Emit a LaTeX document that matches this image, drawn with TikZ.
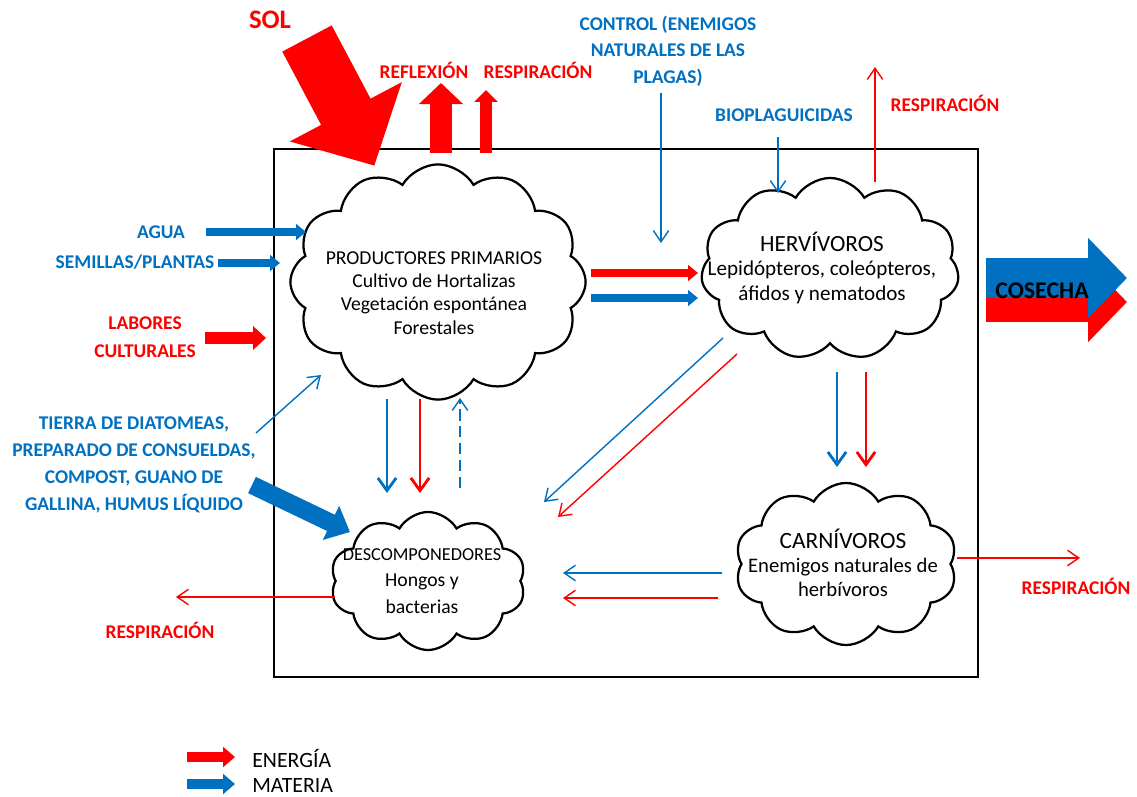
\documentclass[tikz,border=0pt]{standalone}
\usepackage{fontspec}
\setmainfont{Carlito}
\usetikzlibrary{arrows.meta,shapes.symbols}
\definecolor{rojo}{RGB}{255,0,0}
\definecolor{azul}{RGB}{0,112,192}
\begin{document}
\begin{tikzpicture}[x=0.025cm,y=-0.025cm]
\tikzstyle{every node}+=[inner sep=0pt]
\tikzstyle{nube}=[cloud, draw, fill=white, line width=1.6pt, cloud puffs=11, cloud puff arc=120, cloud ignores aspect]
\tikzstyle{texto}=[align=center, font=\fontsize{14}{16.5}\selectfont]
\tikzstyle{etiq}=[align=center, font=\bfseries\fontsize{13.8}{19}\selectfont]
\tikzstyle{fina}=[line width=1pt, -{Straight Barb[length=8pt,width=11pt]}]
\tikzstyle{media}=[line width=2pt, -{Straight Barb[length=9pt,width=13pt]}]
\tikzstyle{gruesa}=[line width=5.5pt, -{Triangle[length=7pt,width=11pt]}]
\useasboundingbox (0,0) rectangle (1137,796);
\draw[line width=2pt] (274,149) rectangle (978,677);
% nubes
\node[nube, cloud puffs=12, minimum width=7.38cm, minimum height=5.88cm] (prod) at (438,282) {};
\node[texto] (prodtxt) at (434,293) {PRODUCTORES PRIMARIOS\\Cultivo de Hortalizas\\Vegetación espontánea\\Forestales};
\node[nube, minimum width=6.45cm, minimum height=4.55cm] (herb) at (830,269) {};
\node[texto, font=\fontsize{15}{17.5}\selectfont] (herbtxt) at (822,268) {{\fontsize{16.5}{18}\selectfont HERVÍVOROS}\\Lepidópteros, coleópteros,\\áfidos y nematodos};
\node[nube, cloud puffs=10, minimum width=4.88cm, minimum height=3.45cm] (desc) at (428,581) {};
\node[texto, font=\fontsize{14}{19}\selectfont] (desctxt) at (422,581) {{\fontsize{13}{14}\selectfont DESCOMPONEDORES}\\Hongos y\\bacterias};
\node[nube, cloud puffs=10, minimum width=5.55cm, minimum height=4.05cm] (carn) at (846,564) {};
\node[texto, font=\fontsize{14.7}{17}\selectfont] (carntxt) at (843,563) {{\fontsize{16.6}{18}\selectfont CARNÍVOROS}\\Enemigos naturales de\\herbívoros};
% etiquetas
\node[etiq, rojo, font=\bfseries\fontsize{19}{22}\selectfont] (sol) at (270,20) {SOL};
\node[etiq, rojo] (refl) at (424,70) {REFLEXIÓN};
\node[etiq, rojo] (resp1) at (538,70) {RESPIRACIÓN};
\node[etiq, azul] (control) at (668,51) {CONTROL (ENEMIGOS\\NATURALES DE LAS\\PLAGAS)};
\node[etiq, azul] (bio) at (784,115) {BIOPLAGUICIDAS};
\node[etiq, rojo] (resp2) at (945,103) {RESPIRACIÓN};
\node[etiq, azul] (agua) at (161,232) {AGUA};
\node[etiq, azul] (semillas) at (135,262) {SEMILLAS/PLANTAS};
\node[etiq, rojo, font=\bfseries\fontsize{13.8}{20}\selectfont] (labores) at (145,337) {LABORES\\CULTURALES};
\node[etiq, azul] (tierra) at (134,465) {TIERRA DE DIATOMEAS,\\PREPARADO DE CONSUELDAS,\\COMPOST, GUANO DE\\GALLINA, HUMUS LÍQUIDO};
\node[etiq, rojo] (resp3) at (1076,586) {RESPIRACIÓN};
\node[etiq, rojo] (resp4) at (160,630) {RESPIRACIÓN};
% flechas de bloque
\coordinate (solA) at (307,38.5);
\coordinate (solB) at (374.4,165.7);
\draw[rojo, line width=39.8pt, -{Triangle[length=43.4pt,width=87.5pt]}] (solA) -- (solB);
\coordinate (reflA) at (441,153);
\coordinate (reflB) at (441,83);
\draw[rojo, line width=15pt, -{Triangle[length=15pt,width=30.6pt]}] (reflA) -- (reflB);
\coordinate (res1A) at (486,153);
\coordinate (res1B) at (486,90);
\draw[rojo, line width=8.5pt, -{Triangle[length=8.5pt,width=16.4pt]}] (res1A) -- (res1B);
\coordinate (cosA) at (986,302);
\coordinate (cosB) at (1127,302);
\coordinate (cosC) at (986,278);
\coordinate (cosD) at (1127,278);
\draw[rojo, line width=28.5pt, -{Triangle[length=27.7pt,width=55.5pt]}] (cosA) -- (cosB);
\draw[azul, line width=28.5pt, -{Triangle[length=27.7pt,width=55.5pt]}] (cosC) -- (cosD);
\node[font=\bfseries\fontsize{17}{20}\selectfont] (cosecha) at (1042,291) {COSECHA};
\coordinate (tiA) at (252,485);
\coordinate (tiB) at (350,532);
\draw[azul, line width=12.8pt, -{Triangle[length=15pt,width=26pt]}] (tiA) -- (tiB);
% entradas a productores
\coordinate (agA) at (206,232);
\coordinate (agB) at (306,232);
\draw[gruesa, azul] (agA) -- (agB);
\coordinate (seA) at (218,263);
\coordinate (seB) at (280,263);
\draw[gruesa, azul] (seA) -- (seB);
\coordinate (laA) at (205,338);
\coordinate (laB) at (266,338);
\draw[rojo, line width=9.2pt, -{Triangle[length=9.2pt,width=16.4pt]}] (laA) -- (laB);
\coordinate (tfA) at (256,433);
\coordinate (tfB) at (321,375);
\draw[fina, azul] (tfA) -- (tfB);
% productores a hervivoros
\coordinate (ph1) at (591,273);
\coordinate (ph2) at (698,273);
\coordinate (ph3) at (591,298);
\coordinate (ph4) at (698,298);
\draw[gruesa, rojo] (ph1) -- (ph2);
\draw[gruesa, azul] (ph3) -- (ph4);
% control y bioplaguicidas
\coordinate (ctA) at (661,93);
\coordinate (ctB) at (661,243);
\draw[fina, azul] (ctA) -- (ctB);
\coordinate (bioA) at (778,137);
\coordinate (bioB) at (778,193);
\draw[fina, azul] (bioA) -- (bioB);
\coordinate (hrA) at (875,182);
\coordinate (hrB) at (875,67);
\draw[fina, rojo] (hrA) -- (hrB);
% productores a descomponedores
\coordinate (pd1) at (387,399);
\coordinate (pd2) at (387,493);
\coordinate (pd3) at (420,399);
\coordinate (pd4) at (420,493);
\coordinate (pd5) at (460,488);
\coordinate (pd6) at (460,398);
\draw[media, azul] (pd1) -- (pd2);
\draw[media, rojo] (pd3) -- (pd4);
\draw[fina, azul, dash pattern=on 8pt off 4pt] (pd5) -- (pd6);
% hervivoros a descomponedores y carnivoros
\coordinate (hd1) at (723,338);
\coordinate (hd2) at (544,502);
\coordinate (hd3) at (737,354);
\coordinate (hd4) at (558,517);
\draw[fina, azul] (hd1) -- (hd2);
\draw[fina, rojo] (hd3) -- (hd4);
\coordinate (hc1) at (837,372);
\coordinate (hc2) at (837,467);
\coordinate (hc3) at (866,372);
\coordinate (hc4) at (866,467);
\draw[media, azul] (hc1) -- (hc2);
\draw[media, rojo] (hc3) -- (hc4);
% carnivoros a descomponedores
\coordinate (cd1) at (722,573);
\coordinate (cd2) at (563,573);
\coordinate (cd3) at (718,598);
\coordinate (cd4) at (563,598);
\draw[fina, azul] (cd1) -- (cd2);
\draw[fina, rojo] (cd3) -- (cd4);
% respiracion
\coordinate (crA) at (957,558);
\coordinate (crB) at (1080,558);
\draw[fina, rojo] (crA) -- (crB);
\coordinate (drA) at (335,597);
\coordinate (drB) at (176,597);
\draw[fina, rojo] (drA) -- (drB);
% leyenda
\coordinate (leA) at (187,757);
\coordinate (leB) at (235,757);
\coordinate (leC) at (187,784);
\coordinate (leD) at (235,784);
\draw[rojo, line width=7.8pt, -{Triangle[length=8.5pt,width=14pt]}] (leA) -- (leB);
\draw[azul, line width=7.8pt, -{Triangle[length=8.5pt,width=14pt]}] (leC) -- (leD);
\node[anchor=west, font=\fontsize{15.5}{18}\selectfont] (energia) at (252,758) {ENERGÍA};
\node[anchor=west, font=\fontsize{15.5}{18}\selectfont] (materia) at (252,785) {MATERIA};
\end{tikzpicture}
\end{document}
